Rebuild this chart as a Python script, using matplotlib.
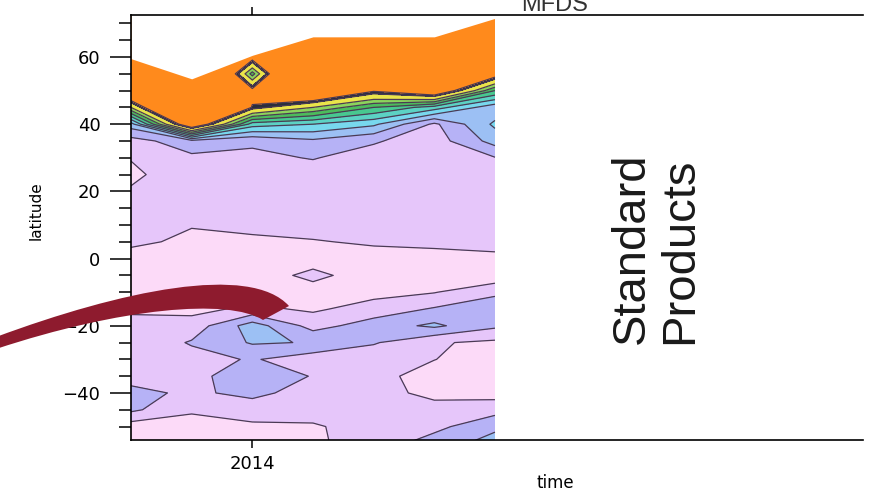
import numpy as np
import matplotlib
matplotlib.use('Agg')
import matplotlib.pyplot as plt
from matplotlib.path import Path
from matplotlib.patches import PathPatch

# time samples (decimal year) and latitude grid
times = [2013.70, 2013.85, 2014.00, 2014.15, 2014.30, 2014.45, 2014.60]
lats = [75, 70, 65, 60, 55, 50, 45, 40, 35, 30, 25, 20, 15, 10, 5, 0,
        -5, -10, -15, -20, -25, -30, -35, -40, -45, -50, -55]

# field values, one row per latitude (north first)
field = [
    [20, 20, 20, 20, 20, 20, 20],
    [20, 20, 20, 20, 20, 20, 20],
    [20, 20, 20, 20, 20, 20, 20],
    [20, 20, 11.8, 20, 20, 20, 18],
    [18, 20, 7.5, 20, 20, 20, 12],
    [14, 20, 11.5, 14, 11.2, 13, 7],
    [9, 18, 10.9, 9, 7, 5.5, 3.3],
    [3.5, 13, 5.5, 5, 4.2, 1.8, 4.2],
    [1.6, 2.6, 2.15, 2.8, 2.1, 1.5, 3.4],
    [1.05, 1.8, 1.8, 2.05, 1.6, 1.5, 1.95],
    [0.8, 1.6, 1.6, 1.6, 1.5, 1.5, 1.5],
    [1.1, 1.5, 1.6, 1.5, 1.5, 1.5, 1.5],
    [1.4, 1.3, 1.5, 1.5, 1.4, 1.4, 1.4],
    [1.4, 1.05, 1.2, 1.3, 1.3, 1.2, 1.3],
    [1.2, 0.8, 0.85, 0.95, 1.1, 1.1, 1.3],
    [0.6, 0.6, 0.6, 0.5, 0.7, 0.85, 0.8],
    [0.5, 0.5, 0.4, 1.3, 0.4, 0.5, 0.3],
    [0.5, 0.55, 0.6, 0.5, 0.7, 0.95, 1.8],
    [0.85, 0.73, 1.2, 0.85, 1.4, 2.1, 2.6],
    [1.3, 1.4, 3.5, 1.6, 2.5, 3.2, 2.2],
    [1.2, 2.1, 3.1, 2.95, 2.1, 1.1, 0.8],
    [1.4, 1.6, 2.1, 1.4, 1.3, 1.02, 0.5],
    [1.6, 1.7, 2.6, 1.95, 1.3, 0.6, 0.5],
    [2.3, 1.8, 2.3, 1.5, 1.4, 0.7, 0.6],
    [2.2, 1.15, 1.4, 1.3, 1.3, 1.4, 1.6],
    [0.5, 0.55, 0.85, 0.92, 1.3, 1.7, 2.8],
    [0.4, 0.5, 0.5, 0.85, 1.4, 2.5, 3.4],
]

# northern edge of valid data per time step
top_lat = [59.5, 53.5, 60.5, 66, 66, 66, 71.5]

levels = [-1, 1, 2, 3, 4, 5, 6, 7, 8, 9, 10.4, 11, 30]
colors = ['#fcdaf8', '#e6c6fa', '#b6b2f6', '#9cc0f4', '#78d8ee', '#5cd2c4',
          '#48c890', '#4cbc5c', '#8cd45c', '#eae44a', '#2a2e3a', '#ff8a1c']

W, H = 883, 492
fig = plt.figure(figsize=(W / 100, H / 100), dpi=100)
ax = fig.add_axes([131 / W, 1 - 440 / H, 732 / W, 425 / H])

lat_arr = np.array(lats)[::-1]
z = np.array(field)[::-1]
ax.contourf(times, lat_arr, z, levels=levels, colors=colors)
ax.contour(times, lat_arr, z, levels=levels[1:-1], colors='#4b3a55', linewidths=0.9)
ax.fill_between(times, top_lat, 90, color='white', zorder=2, linewidth=0)

ax.set_xlim(2013.70, 2013.70 + 732 / 404.4)
ax.set_ylim(-54, 72.5)
ax.spines['right'].set_visible(False)
for s in ['left', 'top', 'bottom']:
    ax.spines[s].set_linewidth(1.2)
    ax.spines[s].set_zorder(5)

ax.set_xticks([2014])
ax.set_xticklabels(['2014'])
ax.set_yticks([-40, -20, 0, 20, 40, 60])
ax.set_yticks(np.arange(-50, 75, 5), minor=True)
ax.xaxis.set_ticks_position('both')
ax.tick_params(axis='x', which='major', direction='out', length=6, width=1.1,
               labelsize=13, pad=5)
ax.tick_params(axis='y', which='major', direction='out', length=15, width=1.1,
               labelsize=13, pad=7)
ax.tick_params(axis='y', which='minor', direction='out', length=8.5, width=1.1)
ax.tick_params(axis='y', right=False, which='both')

ax.set_ylabel('latitude', fontsize=11)
ax.yaxis.set_label_coords(-0.12, 0.54)
ax.set_xlabel('time', fontsize=12)
ax.xaxis.set_label_coords(0.579, -0.08)

fig.text(555 / W, 1 - 11 / H, 'MFDS', ha='center', va='baseline', fontsize=17,
         family='Liberation Sans', color='#333333')
fig.text(656 / W, 1 - 248 / H, 'Standard\nProducts', rotation=90, ha='center',
         va='center', multialignment='left', fontsize=34,
         family='Liberation Sans', color='#1a1a1a', linespacing=1.1)

# red swoosh arrow pointing at the southern-hemisphere feature (pixel coords)
top_edge = [(-4, 337), (120, 291), (250, 263), (289, 306)]
bot_edge = [(263, 320), (228, 298), (120, 308), (-4, 349)]
verts = top_edge + bot_edge + [top_edge[0]]
codes = [Path.MOVETO, Path.CURVE4, Path.CURVE4, Path.CURVE4,
         Path.LINETO, Path.CURVE4, Path.CURVE4, Path.CURVE4, Path.CLOSEPOLY]
verts = [(x / W, 1 - y / H) for x, y in verts]
swoosh = PathPatch(Path(verts, codes), facecolor='#8e1b2e', edgecolor='none',
                   transform=fig.transFigure, zorder=10)
fig.patches.append(swoosh)

plt.savefig('out.png', dpi=100)
